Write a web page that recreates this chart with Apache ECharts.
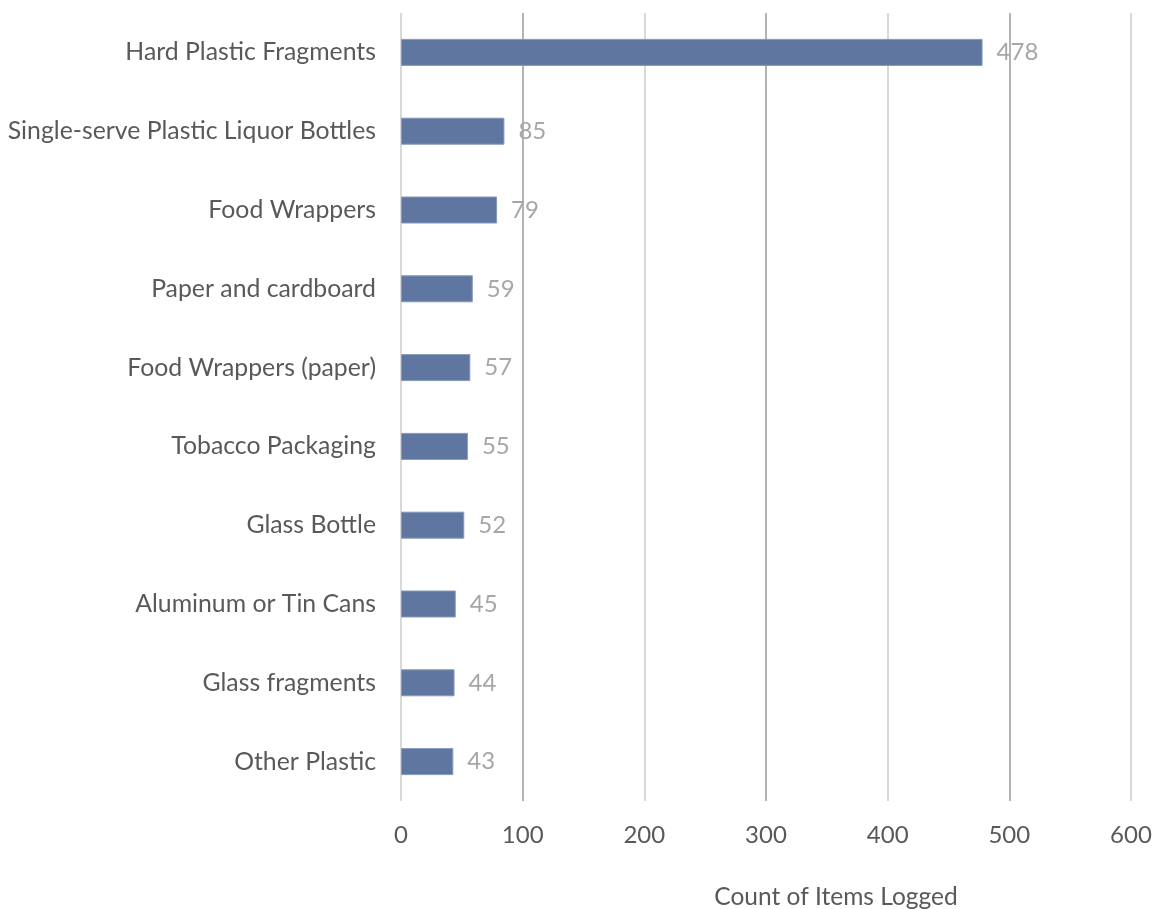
<!DOCTYPE html>
<html>
<head>
<meta charset="utf-8">
<script src="https://cdn.jsdelivr.net/npm/echarts@6/dist/echarts.min.js"></script>
<style>
  html, body { margin: 0; padding: 0; background: #fff; }
  #chart { width: 1153px; height: 909px; }
</style>
</head>
<body>
<div id="chart"></div>
<script>
// Litter categories, listed top to bottom
const categories = [
  'Hard Plastic Fragments',
  'Single-serve Plastic Liquor Bottles',
  'Food Wrappers',
  'Paper and cardboard',
  'Food Wrappers (paper)',
  'Tobacco Packaging',
  'Glass Bottle',
  'Aluminum or Tin Cans',
  'Glass fragments',
  'Other Plastic'
];
const counts = [478, 85, 79, 59, 57, 55, 52, 45, 44, 43];
const axisTitle = 'Count of Items Logged';

const FONT = 'Lato, "Open Sans", sans-serif';

const chart = echarts.init(document.getElementById('chart'), null, { renderer: 'canvas' });
chart.setOption({
  animation: false,
  backgroundColor: '#ffffff',
  grid: { left: 401, right: 22, top: 13, bottom: 108, containLabel: false, outerBoundsMode: 'none' },
  xAxis: {
    type: 'value',
    min: 0,
    max: 600,
    interval: 100,
    name: axisTitle,
    nameLocation: 'middle',
    nameGap: 84,
    // title sits a little right of the plot centre
    nameTextStyle: { color: '#595959', fontSize: 24.5, fontFamily: FONT, padding: [0, 0, 0, 140] },
    axisLine: { show: false },
    axisTick: { show: false },
    axisLabel: { color: '#595959', fontSize: 24, fontFamily: FONT, margin: 22 },
    splitLine: { show: true, lineStyle: { color: ['#d9d9d9', '#b3b3b3'], width: 2 } }
  },
  yAxis: {
    type: 'category',
    data: categories,
    inverse: true,
    axisLine: { show: false },
    axisTick: { show: false },
    axisLabel: { color: '#595959', fontSize: 24.8, fontFamily: FONT, margin: 25 },
    splitLine: { show: false }
  },
  series: [{
    type: 'bar',
    data: counts,
    barWidth: 27,
    itemStyle: { color: '#5f77a0', borderColor: '#8599bb', borderWidth: 1 },
    label: {
      show: true,
      position: 'right',
      distance: 14,
      color: '#a6a6a6',
      fontSize: 24,
      fontFamily: FONT
    }
  }]
});
</script>
</body>
</html>
